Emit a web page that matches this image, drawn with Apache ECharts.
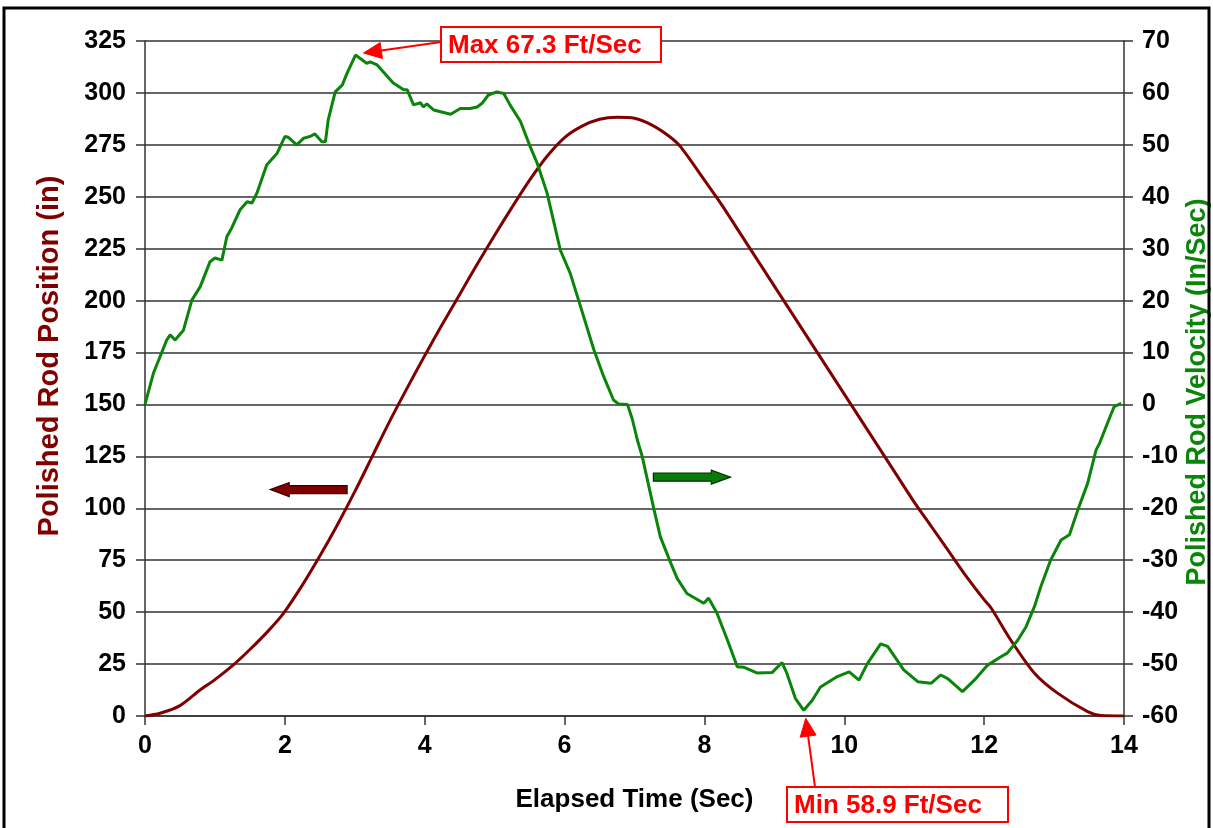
<!DOCTYPE html>
<html>
<head>
<meta charset="utf-8">
<script src="https://cdn.jsdelivr.net/npm/echarts/dist/echarts.min.js"></script>
<style>
html,body{margin:0;padding:0;background:#ffffff;}
#chart{width:1213px;height:828px;}
</style>
</head>
<body>
<div id="chart"></div>
<script>
// ---- Data ----
const xTickValues = [0, 2, 4, 6, 8, 10, 12, 14];
const positionTicks = [0, 25, 50, 75, 100, 125, 150, 175, 200, 225, 250, 275, 300, 325];
const velocityTicks = [-60, -50, -40, -30, -20, -10, 0, 10, 20, 30, 40, 50, 60, 70];

// Polished rod position (in) vs elapsed time (sec)
const posTime = [0, 0.215, 0.5, 0.787, 1.0, 1.264, 1.5, 1.75, 1.98, 2.25, 2.5, 2.75, 3.0, 3.25, 3.5, 3.75, 4.0, 4.25, 4.5, 4.75, 5.0, 5.25, 5.5, 5.75, 6.0, 6.25, 6.5, 6.75, 7.0, 7.25, 7.5, 7.66, 8.0, 8.25, 8.5, 8.75, 9.0, 9.25, 9.5, 9.75, 10.0, 10.25, 10.5, 10.75, 11.0, 11.25, 11.5, 11.75, 12.0, 12.1, 12.38, 12.72, 13.05, 13.48, 13.67, 14.0];
const posValue = [0, 1.3, 5, 12.5, 17.5, 24.6, 32, 40.5, 49.4, 63, 77, 92, 108, 125, 142, 158, 173.5, 188.5, 203, 217.5, 231.5, 245, 258, 269.5, 278.5, 284, 287.3, 288.3, 287.8, 284.5, 279, 274, 258, 246, 233, 220, 207, 194, 181, 168, 155, 142, 129, 116, 103, 91, 79, 67, 56, 52, 36.6, 20.6, 11, 2.1, 0.2, 0];

// Polished rod velocity (in/sec) vs elapsed time (sec)
const velTime = [0, 0.12, 0.31, 0.36, 0.43, 0.55, 0.67, 0.79, 0.93, 1.0, 1.10, 1.17, 1.24, 1.36, 1.46, 1.53, 1.60, 1.74, 1.89, 2.0, 2.05, 2.17, 2.27, 2.36, 2.43, 2.53, 2.58, 2.62, 2.72, 2.82, 2.89, 3.01, 3.17, 3.22, 3.32, 3.55, 3.70, 3.75, 3.84, 3.94, 3.98, 4.03, 4.13, 4.37, 4.51, 4.65, 4.75, 4.82, 4.91, 5.03, 5.13, 5.22, 5.37, 5.51, 5.61, 5.75, 5.84, 5.94, 6.08, 6.23, 6.42, 6.56, 6.70, 6.77, 6.90, 6.97, 7.04, 7.11, 7.28, 7.37, 7.52, 7.61, 7.75, 7.99, 8.06, 8.18, 8.33, 8.47, 8.56, 8.75, 8.97, 9.11, 9.18, 9.30, 9.42, 9.54, 9.66, 9.90, 10.07, 10.21, 10.33, 10.52, 10.62, 10.85, 11.05, 11.24, 11.38, 11.48, 11.69, 11.86, 12.05, 12.24, 12.33, 12.48, 12.60, 12.72, 12.81, 12.95, 13.10, 13.22, 13.34, 13.48, 13.60, 13.65, 13.79, 13.86, 13.96];
const velValue = [0, 6.0, 12.4, 13.4, 12.4, 14.3, 20.1, 22.7, 27.5, 28.2, 27.8, 32.3, 34, 37.5, 39.05, 38.8, 40.7, 46.1, 48.4, 51.6, 51.45, 50, 51.3, 51.6, 52.1, 50.6, 50.6, 54.8, 60.2, 61.5, 63.8, 67.3, 65.7, 66, 65.4, 61.9, 60.6, 60.6, 57.7, 58.1, 57.3, 57.9, 56.7, 55.9, 57, 57, 57.3, 58, 59.6, 60.2, 59.9, 57.7, 54.5, 49.6, 46.4, 40.7, 35.5, 29.7, 25.3, 18.8, 10.5, 5.35, 0.86, 0.1, 0, -2.9, -6.8, -10, -20.3, -25.5, -30.6, -33.5, -36.4, -38.3, -37.3, -40.2, -45.4, -50.5, -50.6, -51.7, -51.6, -49.7, -51.8, -56.6, -58.9, -57, -54.4, -52.4, -51.5, -53.1, -49.9, -46.1, -46.6, -51.1, -53.4, -53.7, -52.1, -52.8, -55.3, -53.1, -50.2, -48.6, -47.9, -45.4, -42.8, -38.9, -35.1, -30, -26.1, -25.1, -20.3, -15.2, -8.8, -7.5, -2.7, -0.4, 0.2];

// Annotated extremes
const maxPoint = [3.01, 67.3];
const minPoint = [9.42, -58.9];
const maxLabel = 'Max 67.3 Ft/Sec';
const minLabel = 'Min 58.9 Ft/Sec';
const xTitle = 'Elapsed Time (Sec)';
const leftTitle = 'Polished Rod Position (in)';
const rightTitle = 'Polished Rod Velocity (In/Sec)';

const posData = posTime.map((t, i) => [t, posValue[i]]);
const velData = velTime.map((t, i) => [t, velValue[i]]);

const FONT = 'Arial, "Liberation Sans", sans-serif';
const RED_LINE = '#800000';
const GREEN_LINE = '#0a850a';
const GRID_COLOR = '#333333';

const chart = echarts.init(document.getElementById('chart'), null, {renderer: 'canvas'});

const tickLabelStyle = {
  color: '#000', fontFamily: FONT, fontWeight: 'bold', fontSize: 25
};

chart.setOption({
  backgroundColor: '#ffffff',
  animation: false,
  grid: {left: 145, right: 89, top: 41, bottom: 112, containLabel: false},
  xAxis: {
    type: 'value', min: 0, max: 14, interval: 2,
    axisLine: {show: true, onZero: false, lineStyle: {color: GRID_COLOR, width: 1.5}},
    axisTick: {show: true, inside: false, length: 9, lineStyle: {color: GRID_COLOR, width: 1.5}},
    axisLabel: Object.assign({margin: 18, formatter: v => xTickValues.includes(v) ? String(v) : ''}, tickLabelStyle),
    splitLine: {show: false}
  },
  yAxis: [{
    type: 'value', position: 'left', min: 0, max: 325, interval: 25,
    axisLine: {show: true, lineStyle: {color: GRID_COLOR, width: 1.5}},
    axisTick: {show: true, inside: false, length: 9, lineStyle: {color: GRID_COLOR, width: 1.5}},
    axisLabel: Object.assign({margin: 19, formatter: v => positionTicks.includes(v) ? String(v) : ''}, tickLabelStyle),
    splitLine: {show: true, lineStyle: {color: GRID_COLOR, width: 1.5}}
  }, {
    type: 'value', position: 'right', min: -60, max: 70, interval: 10,
    axisLine: {show: true, lineStyle: {color: GRID_COLOR, width: 1.5}},
    axisTick: {show: true, inside: false, length: 9, lineStyle: {color: GRID_COLOR, width: 1.5}},
    axisLabel: Object.assign({margin: 18, formatter: v => velocityTicks.includes(v) ? String(v) : ''}, tickLabelStyle),
    splitLine: {show: false}
  }],
  series: [{
    name: 'Polished Rod Position', type: 'line', yAxisIndex: 0, data: posData,
    showSymbol: false, smooth: 0.3, lineStyle: {color: RED_LINE, width: 3}, itemStyle: {color: RED_LINE},
    z: 3
  }, {
    name: 'Polished Rod Velocity', type: 'line', yAxisIndex: 1, data: velData,
    showSymbol: false, smooth: false, lineStyle: {color: GREEN_LINE, width: 3}, itemStyle: {color: GREEN_LINE},
    z: 4
  }]
});

// ---- Annotations (positioned via the chart's own scales) ----
const toPx = (pt, yIdx) => chart.convertToPixel({xAxisIndex: 0, yAxisIndex: yIdx}, pt);

function pointerArrow(x1, y1, x2, y2, color, headLen, headHalf) {
  const dx = x2 - x1, dy = y2 - y1;
  const len = Math.sqrt(dx * dx + dy * dy);
  const ux = dx / len, uy = dy / len;
  const bx = x2 - ux * headLen, by = y2 - uy * headLen;
  const px = -uy, py = ux;
  return [
    {type: 'line', shape: {x1: x1, y1: y1, x2: bx, y2: by}, style: {stroke: color, lineWidth: 2}, z: 20},
    {type: 'polygon', shape: {points: [[x2, y2], [bx + px * headHalf, by + py * headHalf], [bx - px * headHalf, by - py * headHalf]]},
      style: {fill: color, stroke: color, lineWidth: 1}, z: 20}
  ];
}

function blockArrow(tipX, tailX, cy, fill, stroke) {
  const dir = tailX > tipX ? 1 : -1;
  const headLen = 19, headHalf = 7, bodyHalf = 4;
  const hb = tipX + dir * headLen;
  return {
    type: 'polygon',
    shape: {points: [[tipX, cy], [hb, cy - headHalf], [hb, cy - bodyHalf], [tailX, cy - bodyHalf], [tailX, cy + bodyHalf], [hb, cy + bodyHalf], [hb, cy + headHalf]]},
    style: {fill: fill, stroke: stroke, lineWidth: 1.2}, z: 15
  };
}

const gMax = toPx(maxPoint, 1);
const gMin = toPx(minPoint, 1);

const maxBox = {x: 441, y: 27, w: 220, h: 35};
const minBox = {x: 787, y: 787, w: 221, h: 35};

const redArrowTip = toPx([1.79, 109], 0);
const redArrowTail = toPx([2.89, 109], 0);
const greenArrowTip = toPx([8.37, -14], 1);
const greenArrowTail = toPx([7.27, -14], 1);

const plotLeft = toPx([0, 0], 0);
const plotRight = toPx([14, 0], 0);
const xMid = (plotLeft[0] + plotRight[0]) / 2;

const graphics = [
  {type: 'rect', shape: {x: 4, y: 8, width: 1205, height: 840}, style: {fill: 'none', stroke: '#000', lineWidth: 3}, z: 30, silent: true},
  // axis titles
  {type: 'text', x: xMid, y: 800,
    style: {text: xTitle, fill: '#000', font: 'bold 26px ' + FONT, textAlign: 'center', textVerticalAlign: 'middle'}, z: 10},
  {type: 'text', x: 50, y: 356, rotation: Math.PI / 2,
    style: {text: leftTitle, fill: RED_LINE, font: 'bold 29px ' + FONT, textAlign: 'center', textVerticalAlign: 'middle'}, z: 10},
  {type: 'text', x: 1198, y: 392, rotation: Math.PI / 2,
    style: {text: rightTitle, fill: GREEN_LINE, font: 'bold 27px ' + FONT, textAlign: 'center', textVerticalAlign: 'middle'}, z: 10},
  // max annotation box
  {type: 'rect', shape: {x: maxBox.x, y: maxBox.y, width: maxBox.w, height: maxBox.h}, style: {fill: '#fff', stroke: '#ff0000', lineWidth: 2}, z: 21},
  {type: 'text', x: maxBox.x + 7, y: maxBox.y + maxBox.h / 2 + 1,
    style: {text: maxLabel, fill: '#ff0000', font: 'bold 26px ' + FONT, textAlign: 'left', textVerticalAlign: 'middle'}, z: 22},
  // min annotation box
  {type: 'rect', shape: {x: minBox.x, y: minBox.y, width: minBox.w, height: minBox.h}, style: {fill: '#fff', stroke: '#ff0000', lineWidth: 2}, z: 21},
  {type: 'text', x: minBox.x + 7, y: minBox.y + minBox.h / 2 + 1,
    style: {text: minLabel, fill: '#ff0000', font: 'bold 26px ' + FONT, textAlign: 'left', textVerticalAlign: 'middle'}, z: 22},
  blockArrow(redArrowTip[0], redArrowTail[0], redArrowTip[1], '#800000', '#3a0000'),
  blockArrow(greenArrowTip[0], greenArrowTail[0], greenArrowTip[1], '#0a7a0a', '#003300')
]
  .concat(pointerArrow(maxBox.x, maxBox.y + 15, gMax[0] + 8, gMax[1] - 2, '#ff0000', 18, 8))
  .concat(pointerArrow(minBox.x + 28, minBox.y, gMin[0] + 2, gMin[1] + 8, '#ff0000', 18, 8));

chart.setOption({graphic: graphics});
</script>
</body>
</html>
